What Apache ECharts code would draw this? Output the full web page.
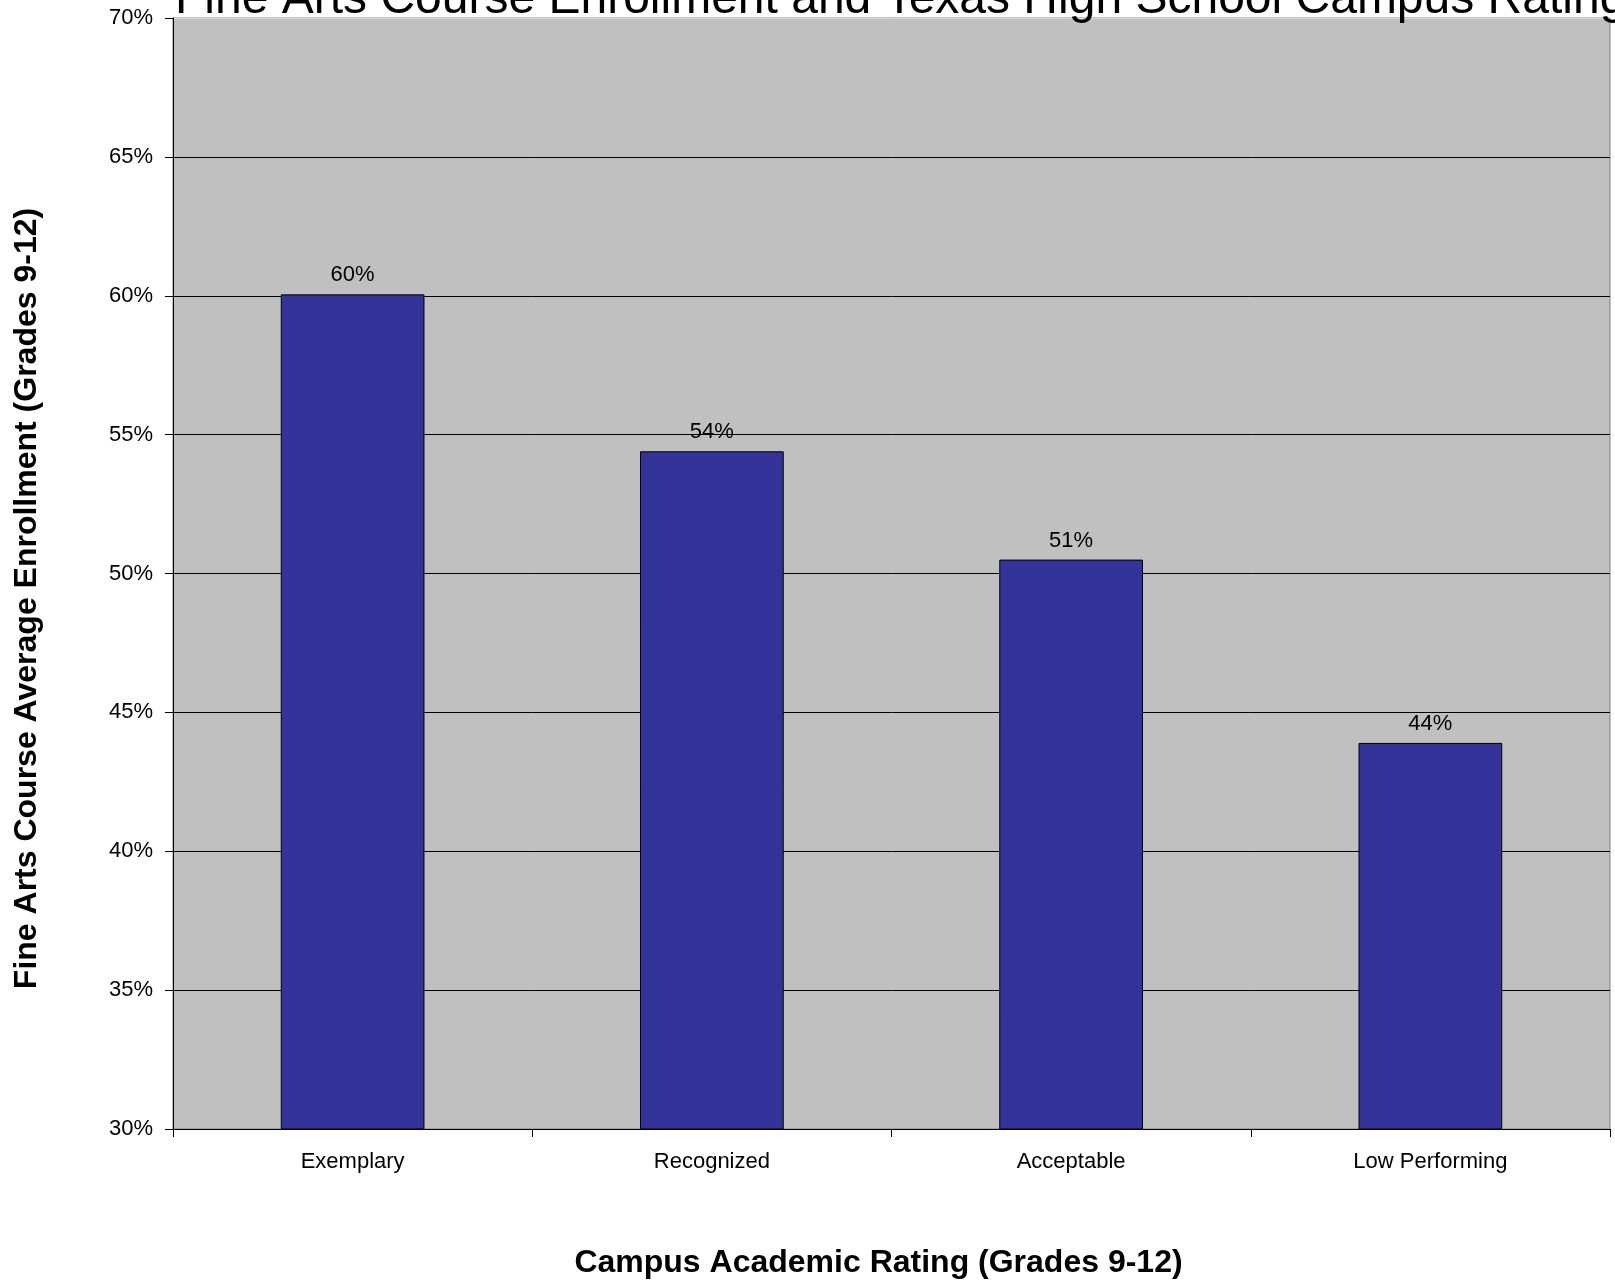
<!DOCTYPE html>
<html>
<head>
<meta charset="utf-8">
<script src="https://cdn.jsdelivr.net/npm/echarts@6/dist/echarts.min.js"></script>
<style>
html,body{margin:0;padding:0;background:#fff;}
#chart{width:1615px;height:1280px;}
</style>
</head>
<body>
<div id="chart"></div>
<script>
var categories = ['Exemplary', 'Recognized', 'Acceptable', 'Low Performing'];
var enrollment = [60.05, 54.4, 50.5, 43.9];
var yTicks = { min: 30, max: 70, interval: 5 };
var titleText = 'Fine Arts Course Enrollment and Texas High School Campus Rating';
var xName = 'Campus Academic Rating (Grades 9-12)';
var yName = 'Fine Arts Course Average Enrollment (Grades 9-12)';

var chart = echarts.init(document.getElementById('chart'));
var font = 'Arial, "Liberation Sans", sans-serif';
var splitColors = [];
for (var i = 0; i < 8; i++) splitColors.push('#000000');
splitColors.push('#d8d8d8');

chart.setOption({
  backgroundColor: '#ffffff',
  animation: false,
  title: {
    text: titleText,
    left: 170,
    top: -29,
    textStyle: { fontFamily: font, fontSize: 48, fontWeight: 'normal', color: '#000' }
  },
  grid: {
    left: 173, right: 5, top: 18, bottom: 151,
    outerBoundsMode: 'none',
    containLabel: false,
    show: true, backgroundColor: '#c0c0c0', borderColor: '#808080', borderWidth: 1
  },
  xAxis: {
    type: 'category',
    data: categories,
    name: xName,
    nameLocation: 'middle',
    nameGap: 118,
    nameTextStyle: { fontFamily: font, fontSize: 32, fontWeight: 'bold', color: '#000', padding: [0, 26, 0, 0] },
    axisLine: { lineStyle: { color: '#000', width: 1 } },
    axisTick: { show: true, length: 8, inside: false, lineStyle: { color: '#000' } },
    axisLabel: { fontFamily: font, fontSize: 22, color: '#000', margin: 22 },
    splitLine: { show: false }
  },
  yAxis: {
    type: 'value',
    min: yTicks.min, max: yTicks.max, interval: yTicks.interval,
    name: yName,
    nameLocation: 'middle',
    nameGap: 130,
    nameRotate: 90,
    nameTextStyle: { fontFamily: font, fontSize: 32, fontWeight: 'bold', color: '#000', padding: [0, 50, 0, 0] },
    axisLine: { show: true, lineStyle: { color: '#000', width: 1 } },
    axisTick: { show: true, length: 8, lineStyle: { color: '#000' } },
    axisLabel: { fontFamily: font, fontSize: 22, color: '#000', margin: 20, formatter: '{value}%' },
    splitLine: { show: true, lineStyle: { color: splitColors, width: 1 } }
  },
  series: [{
    type: 'bar',
    data: enrollment,
    barWidth: '40%',
    itemStyle: { color: '#333399', borderColor: '#000', borderWidth: 1 },
    label: {
      show: true, position: 'top', distance: 8,
      fontFamily: font, fontSize: 22, color: '#000',
      formatter: function (p) { return Math.round(p.value) + '%'; }
    }
  }]
});
</script>
</body>
</html>
